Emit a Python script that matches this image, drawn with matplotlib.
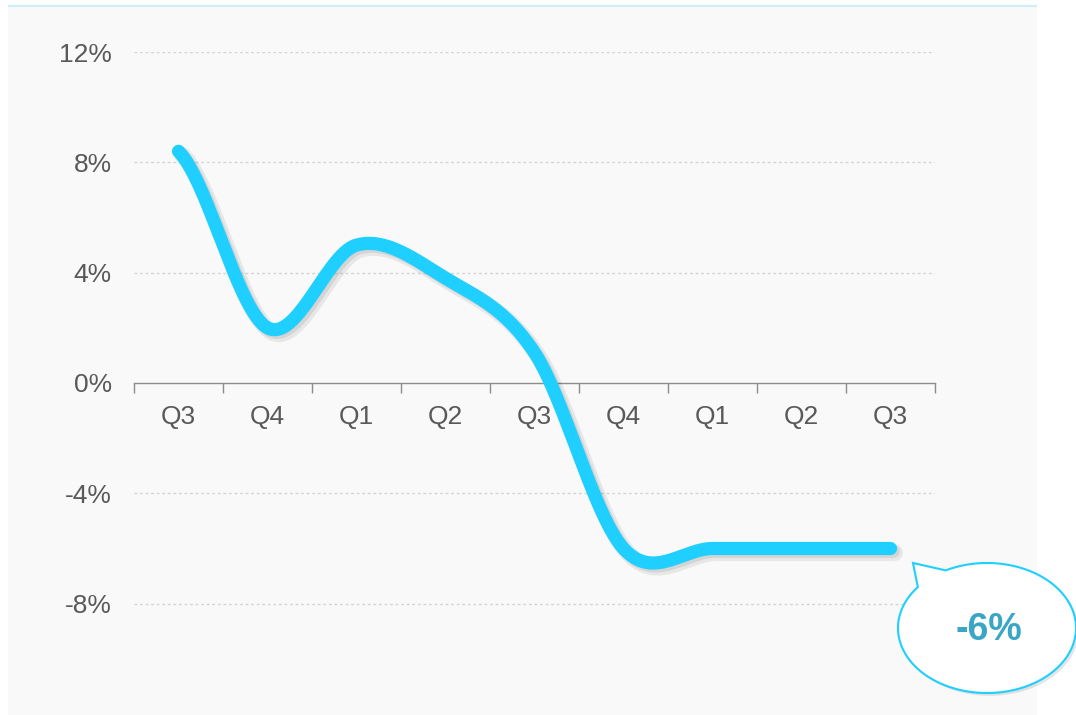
import numpy as np
import matplotlib
matplotlib.use("Agg")
import matplotlib.pyplot as plt
import matplotlib.patheffects as pe
from matplotlib.patches import Rectangle, Polygon
from matplotlib.ticker import FixedLocator, NullFormatter

# ---------------- data ----------------
quarters = ['Q3', 'Q4', 'Q1', 'Q2', 'Q3', 'Q4', 'Q1', 'Q2', 'Q3']
growth = [8.4, 2.0, 5.0, 3.8, 1.1, -6.0, -6.0, -6.0, -6.0]
y_ticks = [-8, -4, 0, 4, 8, 12]
y_tick_labels = ['-8%', '-4%', '0%', '4%', '8%', '12%']
callout_label = '-6%'

# ---------------- style ----------------
LINE_C = '#1ecfff'
TEXT_C = '#595959'
CALLOUT_TEXT_C = '#3aa6c6'
FONT = ['Liberation Sans', 'DejaVu Sans']
plt.rcParams['font.family'] = FONT

W, H = 1076, 715
fig = plt.figure(figsize=(W / 100, H / 100), dpi=100)
fig.patch.set_facecolor('white')

# background panel (pixel coordinates)
bg = fig.add_axes([0, 0, 1, 1], zorder=0)
bg.set_xlim(0, W)
bg.set_ylim(H, 0)
bg.axis('off')
bg.add_patch(Rectangle((8, 6), 1029, 715, facecolor='#f9f9f9', edgecolor='none'))
bg.plot([8, 1037], [6, 6], color='#cdeef8', lw=1.5, solid_capstyle='butt')

# main axes
left, right = 134 / W, 935 / W
top, bottom = 52 / H, 714 / H
ax = fig.add_axes([left, 1 - bottom, right - left, bottom - top], zorder=1)
ax.patch.set_alpha(0)
ax.set_xlim(-0.5, len(quarters) - 0.5)
ax.set_ylim(-12, 12)

for s in ['top', 'right', 'left']:
    ax.spines[s].set_visible(False)
ax.spines['bottom'].set_position(('data', 0))
ax.spines['bottom'].set_color('#8c8c8c')
ax.spines['bottom'].set_linewidth(1.0)

x = np.arange(len(quarters))
ax.xaxis.set_major_locator(FixedLocator(np.arange(-0.5, len(quarters), 1.0)))
ax.xaxis.set_major_formatter(NullFormatter())
ax.xaxis.set_minor_locator(FixedLocator(x))
ax.set_xticklabels(quarters, minor=True)
ax.tick_params(axis='x', which='major', direction='out', length=7, width=1.0, color='#8c8c8c')
ax.tick_params(axis='x', which='minor', length=0, pad=15.5, labelsize=19, labelcolor=TEXT_C)

ax.set_yticks(y_ticks)
ax.set_yticklabels(y_tick_labels)
ax.tick_params(axis='y', length=0, pad=16, labelsize=19, labelcolor=TEXT_C)

for v in y_ticks:
    if v != 0:
        ax.axhline(v, color='#d4d4d4', lw=1.0, ls=(0, (2, 2)), zorder=0)

# Catmull-Rom smoothing of the series
y = np.asarray(growth, dtype=float)
n = len(y)
m = np.zeros(n)
m[1:-1] = (y[2:] - y[:-2]) / 2.0
m[0] = (y[1] - y[0]) / 2.0
m[-1] = (y[-1] - y[-2]) / 2.0
xs, ys = [], []
t = np.linspace(0, 1, 60)
h00 = 2 * t**3 - 3 * t**2 + 1
h10 = t**3 - 2 * t**2 + t
h01 = -2 * t**3 + 3 * t**2
h11 = t**3 - t**2
for i in range(n - 1):
    xs.append(x[i] + t)
    ys.append(h00 * y[i] + h10 * m[i] + h01 * y[i + 1] + h11 * m[i + 1])
xs = np.concatenate(xs)
ys = np.concatenate(ys)

ax.plot(xs, ys, color=LINE_C, lw=9.5, solid_capstyle='round', solid_joinstyle='round',
        zorder=3, clip_on=False,
        path_effects=[pe.SimpleLineShadow(offset=(3, -3), shadow_color='#000000', alpha=0.07, linewidth=12),
                      pe.SimpleLineShadow(offset=(2, -2), shadow_color='#000000', alpha=0.08),
                      pe.Normal()])

# callout bubble (pixel coordinates overlay)
ov = fig.add_axes([0, 0, 1, 1], zorder=2)
ov.set_xlim(0, W)
ov.set_ylim(H, 0)
ov.axis('off')
cx, cy, a, b = 987, 628, 89, 65
th = np.radians(np.linspace(242.4, 579.0, 300))
ex = cx + a * np.cos(th)
ey = cy + b * np.sin(th)
pts = np.column_stack([np.append(ex, 913), np.append(ey, 563)])
bubble = Polygon(pts, closed=True, facecolor='white', edgecolor=LINE_C, lw=1.5, clip_on=False,
                 path_effects=[pe.SimplePatchShadow(offset=(2, -2), shadow_rgbFace='#000000', alpha=0.10),
                               pe.Normal()])
ov.add_patch(bubble)
ov.text(989, 630, callout_label, ha='center', va='center', fontsize=27, fontweight='bold',
        color=CALLOUT_TEXT_C)

fig.savefig('out.png', dpi=100, facecolor='white')
